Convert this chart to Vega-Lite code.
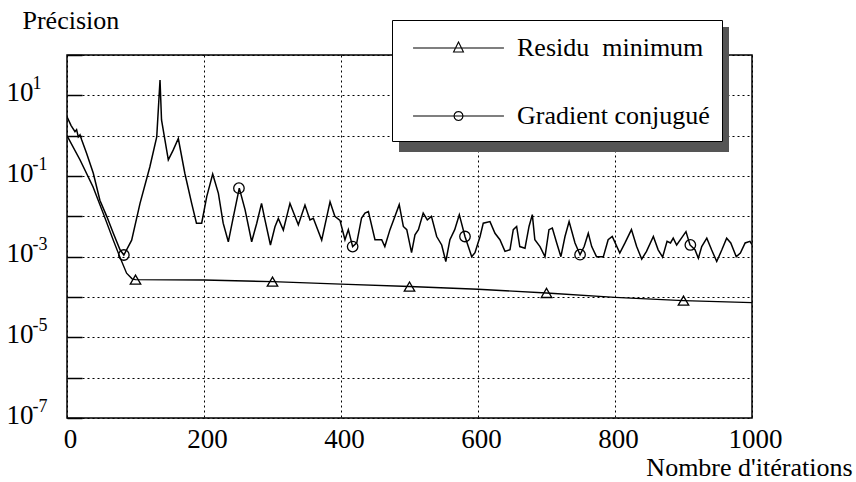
{
  "$schema": "https://vega.github.io/schema/vega-lite/v6.json",
  "autosize": "none",
  "width": 685,
  "height": 363,
  "padding": {"left": 67, "top": 55, "right": 104, "bottom": 64},
  "background": "white",
  "config": {
    "view": {"stroke": "black", "strokeWidth": 1.5},
    "font": "Liberation Serif"
  },
  "resolve": {"scale": {"y": "shared", "shape": "independent"}, "axis": {"y": "independent"}, "legend": {"shape": "independent"}},
  "layer": [
    {
      "data": {"values": [
        {"it":0,"v":2.95},{"it":6,"v":1.78},{"it":11.7,"v":1.26},{"it":14,"v":1.41},{"it":16.5,"v":0.933},{"it":19,"v":1.05},{"it":21.4,"v":0.794},{"it":28.7,"v":0.363},{"it":38.4,"v":0.117},{"it":48,"v":0.0251},{"it":58,"v":0.01},{"it":67.6,"v":0.0038},{"it":77.4,"v":0.00148},{"it":83,"v":0.0011},{"it":94.4,"v":0.00257},{"it":106.6,"v":0.0209},{"it":121,"v":0.17},{"it":131,"v":0.933},{"it":135.8,"v":24},{"it":138,"v":2.45},{"it":147.9,"v":0.251},{"it":155,"v":0.437},{"it":162.5,"v":0.851},{"it":172,"v":0.117},{"it":182,"v":0.0209},{"it":189,"v":0.00676},{"it":196.6,"v":0.00676},{"it":204,"v":0.0309},{"it":212.7,"v":0.112},{"it":221,"v":0.0372},{"it":228,"v":0.00676},{"it":235.5,"v":0.00234},{"it":243,"v":0.01},{"it":251.5,"v":0.0501},{"it":260,"v":0.0145},{"it":269.6,"v":0.00234},{"it":277,"v":0.00676},{"it":284,"v":0.0209},{"it":289,"v":0.00813},{"it":297,"v":0.00195},{"it":303.6,"v":0.0055},{"it":308.5,"v":0.00891},{"it":315.8,"v":0.00457},{"it":325.5,"v":0.0209},{"it":332.8,"v":0.01},{"it":337.7,"v":0.00617},{"it":347.4,"v":0.0191},{"it":354.7,"v":0.00813},{"it":359.6,"v":0.00891},{"it":371.8,"v":0.00257},{"it":384,"v":0.0229},{"it":391,"v":0.01},{"it":398.5,"v":0.00794},{"it":405.8,"v":0.00263},{"it":410.7,"v":0.00468},{"it":417,"v":0.00178},{"it":423,"v":0.00219},{"it":430,"v":0.00912},{"it":435,"v":0.012},{"it":440,"v":0.0132},{"it":449.6,"v":0.00263},{"it":459.4,"v":0.00263},{"it":464,"v":0.00178},{"it":471.5,"v":0.00468},{"it":478.8,"v":0.01},{"it":485,"v":0.0195},{"it":491,"v":0.00562},{"it":496,"v":0.00468},{"it":503,"v":0.00126},{"it":508,"v":0.00347},{"it":513,"v":0.00468},{"it":520,"v":0.012},{"it":526,"v":0.00813},{"it":532,"v":0.01},{"it":539.7,"v":0.00316},{"it":547,"v":0.00195},{"it":553,"v":0.000759},{"it":559,"v":0.00263},{"it":566,"v":0.00468},{"it":572.7,"v":0.011},{"it":581,"v":0.00316},{"it":590.8,"v":0.001},{"it":595.6,"v":0.00126},{"it":603,"v":0.00316},{"it":607.7,"v":0.00676},{"it":617.5,"v":0.00741},{"it":624.8,"v":0.0038},{"it":632,"v":0.00263},{"it":639.4,"v":0.00135},{"it":646.7,"v":0.00148},{"it":651.5,"v":0.00468},{"it":656.4,"v":0.00562},{"it":661,"v":0.00178},{"it":668.6,"v":0.00162},{"it":674.5,"v":0.00562},{"it":679.3,"v":0.011},{"it":683,"v":0.00263},{"it":690.5,"v":0.00178},{"it":697.8,"v":0.001},{"it":703.6,"v":0.00468},{"it":708.5,"v":0.00513},{"it":714.9,"v":0.00219},{"it":721,"v":0.001},{"it":727,"v":0.00316},{"it":733,"v":0.00741},{"it":741.6,"v":0.00219},{"it":749,"v":0.00112},{"it":755,"v":0.00178},{"it":761,"v":0.0038},{"it":766,"v":0.00178},{"it":773,"v":0.001},{"it":783,"v":0.001},{"it":790,"v":0.00263},{"it":796,"v":0.00316},{"it":807,"v":0.00123},{"it":814.6,"v":0.00219},{"it":824,"v":0.00468},{"it":831.6,"v":0.00178},{"it":839,"v":0.000871},{"it":846,"v":0.00135},{"it":856,"v":0.00316},{"it":863,"v":0.00148},{"it":869.5,"v":0.000977},{"it":876,"v":0.0024},{"it":881,"v":0.00219},{"it":885,"v":0.00288},{"it":890,"v":0.00195},{"it":897,"v":0.00288},{"it":903.6,"v":0.00417},{"it":909.5,"v":0.00195},{"it":916.8,"v":0.00148},{"it":921.7,"v":0.000912},{"it":926.6,"v":0.00178},{"it":934,"v":0.00288},{"it":941,"v":0.00148},{"it":948.5,"v":0.000759},{"it":956,"v":0.00148},{"it":963,"v":0.00288},{"it":969,"v":0.00219},{"it":977,"v":0.001},{"it":983,"v":0.00123},{"it":990,"v":0.00219},{"it":997,"v":0.0024},{"it":1000,"v":0.002}
      ]},
      "mark": {"type": "line", "stroke": "black", "strokeWidth": 1.5, "clip": true},
      "encoding": {
        "x": {"field": "it", "type": "quantitative",
          "scale": {"domain": [0, 1000], "nice": false},
          "axis": {"values": [0, 200, 400, 600, 800, 1000], "format": "d", "grid": true, "gridDash": [2, 3], "gridColor": "black", "gridOpacity": 1, "gridWidth": 1,
            "domain": false, "ticks": false, "labelFont": "Liberation Serif", "labelFontSize": 27, "labelColor": "black",
            "labelBaseline": "alphabetic", "labelPadding": 29, "labelOffset": 3, "labelFlush": false, "labelOverlap": false,
            "title": "Nombre d'itérations", "titleFont": "Liberation Serif", "titleFontSize": 26, "titleFontWeight": "normal", "titleColor": "black",
            "titleX": 785, "titleY": 57, "titleAlign": "right", "titleAnchor": "start", "titleBaseline": "alphabetic"}},
        "y": {"field": "v", "type": "quantitative",
          "scale": {"type": "log", "domain": [1e-7, 100], "nice": false},
          "axis": {"values": [1e-7, 1e-6, 1e-5, 1e-4, 1e-3, 1e-2, 1e-1, 1, 10, 100],
            "grid": true, "gridDash": [2, 3], "gridColor": "black", "gridOpacity": 1, "gridWidth": 1,
            "domain": false, "ticks": true, "tickSize": -15, "tickColor": "black", "tickWidth": 1.5,
            "labelExpr": "abs(round(log(datum.value)/LN10)) % 2 == 1 ? '10' : ''",
            "labelFont": "Liberation Serif", "labelFontSize": 27, "labelColor": "black", "labelAlign": "right",
            "labelBaseline": "alphabetic", "labelOffset": 5, "labelPadding": 49, "labelOverlap": false, "labelFlush": false,
            "title": "Précision", "titleFont": "Liberation Serif", "titleFontSize": 26, "titleFontWeight": "normal", "titleColor": "black",
            "titleAngle": 0, "titleX": -45, "titleY": -27, "titleAlign": "left", "titleAnchor": "start", "titleBaseline": "alphabetic"}}
      }
    },
    {
      "data": {"values": [
        {"it":0,"v":1},{"it":19,"v":0.251},{"it":38,"v":0.0537},{"it":53,"v":0.0117},{"it":67.6,"v":0.00257},{"it":77,"v":0.001},{"it":87,"v":0.000389},{"it":95,"v":0.000282},{"it":100,"v":0.000269},{"it":150,"v":0.000266},{"it":200,"v":0.000263},{"it":300,"v":0.00024},{"it":400,"v":0.000209},{"it":500,"v":0.000182},{"it":600,"v":0.000155},{"it":700,"v":0.000126},{"it":800,"v":0.0000977},{"it":900,"v":0.0000813},{"it":1000,"v":0.0000724}
      ]},
      "mark": {"type": "line", "stroke": "black", "strokeWidth": 1.4, "clip": true},
      "encoding": {
        "x": {"field": "it", "type": "quantitative", "scale": {"domain": [0, 1000], "nice": false},
          "axis": {"title": "Nombre d'itérations"}},
        "y": {"field": "v", "type": "quantitative",
          "scale": {"type": "log", "domain": [1e-7, 100], "nice": false},
          "axis": {"orient": "left", "values": [1e-7, 1e-6, 1e-5, 1e-4, 1e-3, 1e-2, 1e-1, 1, 10, 100],
            "grid": false, "domain": false, "ticks": false,
            "labelExpr": "abs(round(log(datum.value)/LN10)) % 2 == 1 ? (round(log(datum.value)/LN10) < 0 ? '-' + abs(round(log(datum.value)/LN10)) : '' + round(log(datum.value)/LN10)) : ''",
            "labelFont": "Liberation Serif", "labelFontSize": 18, "labelColor": "black", "labelAlign": "left",
            "labelBaseline": "alphabetic", "labelOffset": -7, "labelPadding": 35, "labelOverlap": false, "labelFlush": false,
            "title": null}}
      }
    },
    {
      "data": {"name": "markers", "values": [
        {"it":100,"v":0.000269,"s":"Residu\u00a0 minimum","s2":"r"},
        {"it":300,"v":0.00024,"s":"Residu\u00a0 minimum","s2":"r"},
        {"it":500,"v":0.000182,"s":"Residu\u00a0 minimum","s2":"r"},
        {"it":700,"v":0.000126,"s":"Residu\u00a0 minimum","s2":"r"},
        {"it":900,"v":0.0000813,"s":"Residu\u00a0 minimum","s2":"r"},
        {"it":83,"v":0.0011,"s":"Gradient conjugué","s2":"g"},
        {"it":251,"v":0.05,"s":"Gradient conjugué","s2":"g"},
        {"it":417,"v":0.00178,"s":"Gradient conjugué","s2":"g"},
        {"it":581,"v":0.00316,"s":"Gradient conjugué","s2":"g"},
        {"it":749,"v":0.00112,"s":"Gradient conjugué","s2":"g"},
        {"it":910,"v":0.00195,"s":"Gradient conjugué","s2":"g"}
      ]},
      "mark": {"type": "point", "filled": false, "strokeWidth": 1.3, "size": 110, "opacity": 1, "stroke": "black"},
      "encoding": {
        "x": {"field": "it", "type": "quantitative", "scale": {"domain": [0, 1000], "nice": false},
          "axis": {"title": "Nombre d'itérations"}},
        "y": {"field": "v", "type": "quantitative",
          "scale": {"type": "log", "domain": [1e-7, 100], "nice": false}, "axis": null},
        "shape": {"field": "s", "type": "nominal",
          "scale": {"domain": ["Residu\u00a0 minimum", "Gradient conjugué"], "range": ["triangle-up", "circle"]},
          "legend": null}
      }
    },
    {
      "data": {"name": "markers"},
      "mark": {"type": "point", "filled": false, "strokeWidth": 1.1, "size": 95, "opacity": 0},
      "encoding": {
        "x": {"field": "it", "type": "quantitative", "scale": {"domain": [0, 1000], "nice": false},
          "axis": {"title": "Nombre d'itérations"}},
        "y": {"field": "v", "type": "quantitative",
          "scale": {"type": "log", "domain": [1e-7, 100], "nice": false}, "axis": null},
        "color": {"field": "s2", "type": "nominal",
          "scale": {"domain": ["r", "g"], "range": ["black", "black"]},
          "legend": {"title": null, "orient": "none", "legendX": 332, "legendY": -28,
            "padding": 12, "fillColor": "#555555", "strokeColor": null,
            "symbolSize": 900, "symbolOffset": 38.5, "labelOffset": 42.5, "rowPadding": 39,
            "symbolOpacity": 0, "labelOpacity": 0,
            "labelExpr": "datum.label == 'r' ? 'Residu\u00a0 minimum' : 'Gradient conjugué'",
            "labelFont": "Liberation Serif", "labelFontSize": 26, "labelLimit": 400}},
        "shape": {"field": "s", "type": "nominal",
          "scale": {"domain": ["Residu\u00a0 minimum", "Gradient conjugué"],
            "range": ["M-3.03,0L3.03,0M-0.33,0.27L0,-0.4L0.33,0.27Z", "M-3.03,0L3.03,0M0.3,0L0.26,0.15L0.15,0.26L0,0.3L-0.15,0.26L-0.26,0.15L-0.3,0L-0.26,-0.15L-0.15,-0.26L0,-0.3L0.15,-0.26L0.26,-0.15Z"]},
          "legend": {"title": null, "orient": "none", "legendX": 325, "legendY": -35,
            "padding": 12, "fillColor": "white", "strokeColor": "black",
            "symbolSize": 900, "symbolOffset": 38.5, "labelOffset": 42.5, "rowPadding": 39,
            "labelFont": "Liberation Serif", "labelFontSize": 26, "labelColor": "black", "labelLimit": 400,
            "symbolOpacity": 1, "symbolStrokeColor": "black", "symbolStrokeWidth": 1.1, "symbolFillColor": "transparent"}}
      }
    }
  ]
}
